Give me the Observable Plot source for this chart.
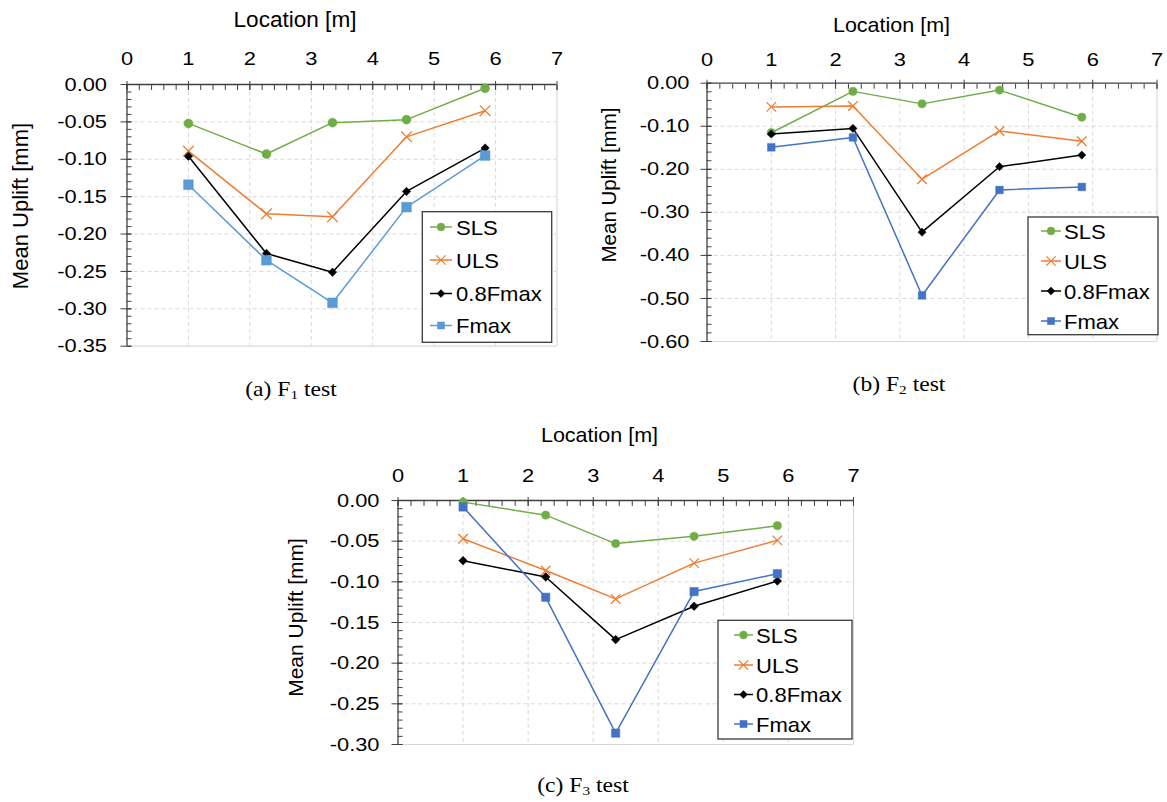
<!DOCTYPE html>
<html>
<head>
<meta charset="utf-8">
<script src="https://cdn.jsdelivr.net/npm/d3@7"></script>
<script src="https://cdn.jsdelivr.net/npm/@observablehq/plot@0.6"></script>
<style>
  html, body { margin: 0; padding: 0; background: #ffffff; }
  #root { position: relative; width: 1167px; height: 802px; overflow: hidden; background: #ffffff;
          font-family: "Liberation Sans", Arial, sans-serif; }
  .panel { position: absolute; }
  .panel svg { overflow: visible; }
  #overlay { position: absolute; left: 0; top: 0; pointer-events: none; }
</style>
</head>
<body>
<div id="root"></div>
<script>
// ---------------- DATA ----------------
const seriesNames = ["SLS", "ULS", "0.8Fmax", "Fmax"];
const locations = [1.0, 2.27, 3.345, 4.55, 5.83];            // Location [m]

// (a) F1 test — mean uplift [mm]
const a_SLS     = [-0.052, -0.093, -0.051, -0.047, -0.005];
const a_ULS     = [-0.089, -0.173, -0.177, -0.070, -0.035];
const a_08Fmax  = [-0.096, -0.226, -0.251, -0.143, -0.085];
const a_Fmax    = [-0.134, -0.235, -0.292, -0.164, -0.095];

// (b) F2 test
const b_SLS     = [-0.115, -0.019, -0.048, -0.016, -0.079];
const b_ULS     = [-0.055, -0.053, -0.223, -0.111, -0.135];
const b_08Fmax  = [-0.118, -0.105, -0.346, -0.194, -0.167];
const b_Fmax    = [-0.149, -0.126, -0.493, -0.248, -0.241];

// (c) F3 test
const c_SLS     = [-0.002, -0.018, -0.053, -0.044, -0.031];
const c_ULS     = [-0.047, -0.086, -0.121, -0.077, -0.049];
const c_08Fmax  = [-0.074, -0.094, -0.171, -0.130, -0.099];
const c_Fmax    = [-0.008, -0.119, -0.286, -0.112, -0.090];

// tick labels
const xTicks  = [0, 1, 2, 3, 4, 5, 6, 7];
const yTicksA = [0, -0.05, -0.10, -0.15, -0.20, -0.25, -0.30, -0.35];
const yTicksB = [0, -0.10, -0.20, -0.30, -0.40, -0.50, -0.60];
const yTicksC = [0, -0.05, -0.10, -0.15, -0.20, -0.25, -0.30];

const xTitle = "Location [m]";
const yTitle = "Mean Uplift [mm]";
const captions = [["(a) F", "1", " test"], ["(b) F", "2", " test"], ["(c) F", "3", " test"]];

// ---------------- STYLE / LAYOUT ----------------
const green = "#70AD47", orange = "#ED7D31", black = "#000000";
const gridColor = "#d9d9d9", axisColor = "#404040";
const FONT = "Liberation Sans, Arial, sans-serif";

const panels = [
  { key: "a", left: 0, top: 0, width: 580, height: 400, mL: 126.5, mR: 23.5, mT: 84, mB: 54.3,
    yTicks: yTicksA, yMinorStep: 0.01, data: [a_SLS, a_ULS, a_08Fmax, a_Fmax], fmax: "#5B9BD5",
    xPad: 20, yPad: 20, rCircle: 4.5, rTimes: 4.9, rDiamond: 3.8, rSquare: 5.5,
    title: { x: 295, y: 26.5, size: 21.5 }, ylab: { x: 28, y: 206, size: 22 },
    cap: { x: 291, y: 396 },
    legend: { x: 422.3, y: 211.7, w: 129.4, h: 130.6, rows: [227, 260, 293.5, 325.5], lx0: 430, lx1: 452, tx: 456 } },
  { key: "b", left: 590, top: 0, width: 577, height: 400, mL: 116.5, mR: 10.5, mT: 82.7, mB: 59,
    yTicks: yTicksB, yMinorStep: 0.02, data: [b_SLS, b_ULS, b_08Fmax, b_Fmax], fmax: "#4472C4",
    xPad: 17.7, yPad: 17.5, rCircle: 4.1, rTimes: 4.4, rDiamond: 3.7, rSquare: 4.3,
    title: { x: 891.5, y: 31.5, size: 20.5 }, ylab: { x: 616, y: 185, size: 20.5 },
    cap: { x: 899, y: 390.5 },
    legend: { x: 1028, y: 217, w: 130, h: 117.7, rows: [231, 261, 291, 321], lx0: 1041, lx1: 1061, tx: 1064 } },
  { key: "c", left: 280, top: 420, width: 600, height: 382, mL: 117.5, mR: 27, mT: 80, mB: 58,
    yTicks: yTicksC, yMinorStep: 0.01, data: [c_SLS, c_ULS, c_08Fmax, c_Fmax], fmax: "#4472C4",
    xPad: 18.3, yPad: 18.5, rCircle: 4.1, rTimes: 4.4, rDiamond: 3.9, rSquare: 4.7,
    title: { x: 599.5, y: 442.3, size: 20.5 }, ylab: { x: 303, y: 617.5, size: 21 },
    cap: { x: 583, y: 792 },
    legend: { x: 718, y: 620.3, w: 134, h: 118.7, rows: [635, 665, 694.5, 724], lx0: 734, lx1: 753, tx: 756 } }
];

const root = document.getElementById("root");

function rows(values) { return locations.map((x, i) => ({ x, y: values[i] })); }

// widen tick labels horizontally (the reference's text is stretched) without moving their anchor
function stretchTexts(svg, sx) {
  svg.querySelectorAll("text").forEach(t => {
    const xa = t.getAttribute("x");
    const x = xa !== null && isFinite(+xa) ? +xa : 0;
    if (xa !== null && isFinite(+xa)) t.removeAttribute("x");
    const tr = t.getAttribute("transform") || "";
    t.setAttribute("transform", `${tr} translate(${x},0) scale(${sx},1)`);
  });
}

for (const p of panels) {
  const yMin = p.yTicks[p.yTicks.length - 1];
  const xMinor = d3.range(0, 7.0001, 0.2);
  const yMinor = d3.range(0, yMin - 1e-9, -p.yMinorStep);
  const [sls, uls, f08, fmax] = p.data;
  const chart = Plot.plot({
    width: p.width, height: p.height,
    marginLeft: p.mL, marginRight: p.mR, marginTop: p.mT, marginBottom: p.mB,
    x: { domain: [0, 7] },
    y: { domain: [yMin, 0] },
    style: { fontFamily: FONT, fontSize: "19px", color: "#000", background: "transparent", overflow: "visible" },
    marks: [
      // grid
      Plot.ruleX(xTicks.filter(d => d > 0 && d < 7), { stroke: gridColor, strokeWidth: 1, strokeDasharray: "4,3" }),
      Plot.ruleY(p.yTicks.filter(d => d < 0 && d > yMin), { stroke: gridColor, strokeWidth: 1, strokeDasharray: "4,3" }),
      Plot.ruleX([7], { stroke: gridColor, strokeWidth: 1.2 }),
      Plot.ruleY([yMin], { stroke: gridColor, strokeWidth: 1.2 }),
      // axis lines
      Plot.ruleY([0], { stroke: axisColor, strokeWidth: 1.3 }),
      Plot.ruleX([0], { stroke: axisColor, strokeWidth: 1.3 }),
      // x ticks (top): minor inward, major crossing
      Plot.axisX({ anchor: "top", ticks: xMinor, tickSize: 5, dy: 5, text: null, label: null, stroke: axisColor }),
      Plot.axisX({ anchor: "top", ticks: xTicks, tickSize: 9, dy: 5, text: null, label: null, stroke: axisColor }),
      Plot.axisX({ anchor: "top", ticks: xTicks, tickSize: 0, tickPadding: p.xPad, label: null,
                   tickFormat: d => String(d), fontSize: 19, fill: "#000" }),
      // y ticks (left)
      Plot.axisY({ anchor: "left", ticks: yMinor, tickSize: 5, dx: 5, text: null, label: null, stroke: axisColor }),
      Plot.axisY({ anchor: "left", ticks: p.yTicks, tickSize: 11, dx: 5, text: null, label: null, stroke: axisColor }),
      Plot.axisY({ anchor: "left", ticks: p.yTicks, tickSize: 0, tickPadding: p.yPad, label: null,
                   tickFormat: d => (Math.abs(d) < 1e-9 ? "0.00" : d.toFixed(2)), fontSize: 19, fill: "#000" }),
      // series
      Plot.line(rows(sls), { x: "x", y: "y", stroke: green, strokeWidth: 1.5 }),
      Plot.dot(rows(sls), { x: "x", y: "y", symbol: "circle", r: p.rCircle, fill: green, stroke: green, strokeWidth: 0.5 }),
      Plot.line(rows(uls), { x: "x", y: "y", stroke: orange, strokeWidth: 1.5 }),
      Plot.dot(rows(uls), { x: "x", y: "y", symbol: "times", r: p.rTimes, stroke: orange, strokeWidth: 1.3 }),
      Plot.line(rows(f08), { x: "x", y: "y", stroke: black, strokeWidth: 1.5 }),
      Plot.dot(rows(f08), { x: "x", y: "y", symbol: "diamond2", r: p.rDiamond, fill: black, stroke: black, strokeWidth: 0.5 }),
      Plot.line(rows(fmax), { x: "x", y: "y", stroke: p.fmax, strokeWidth: 1.5 }),
      Plot.dot(rows(fmax), { x: "x", y: "y", symbol: "square", r: p.rSquare, fill: p.fmax, stroke: p.fmax, strokeWidth: 0.5 })
    ]
  });
  stretchTexts(chart, 1.15);
  const div = document.createElement("div");
  div.className = "panel";
  div.style.left = p.left + "px";
  div.style.top = p.top + "px";
  div.appendChild(chart);
  root.appendChild(div);
}

// ---------------- OVERLAY: titles, captions, legends ----------------
const ov = d3.select(root).append("svg")
  .attr("id", "overlay").attr("width", 1167).attr("height", 802);

const legendColors = (p) => [green, orange, black, p.fmax];
const legendSymbols = [d3.symbolCircle, d3.symbolTimes, d3.symbolDiamond2, d3.symbolSquare];
const legendR = [3.9, 4.3, 3.5, 4.0];

panels.forEach((p, k) => {
  // x title
  ov.append("text")
    .attr("transform", `translate(${p.title.x},${p.title.y}) scale(1.05,1)`)
    .attr("text-anchor", "middle")
    .attr("font-family", FONT).attr("font-size", p.title.size).attr("fill", "#000")
    .text(xTitle);
  // y title
  ov.append("text")
    .attr("transform", `translate(${p.ylab.x},${p.ylab.y}) rotate(-90)`)
    .attr("text-anchor", "middle")
    .attr("font-family", FONT).attr("font-size", p.ylab.size).attr("fill", "#000")
    .text(yTitle);
  // caption
  const c = ov.append("text")
    .attr("transform", `translate(${p.cap.x},${p.cap.y}) scale(1.18,1)`)
    .attr("text-anchor", "middle")
    .attr("font-family", "Liberation Serif, 'Times New Roman', serif").attr("font-size", 20).attr("fill", "#000");
  c.append("tspan").text(captions[k][0]);
  c.append("tspan").attr("font-size", 13).attr("dy", 3).text(captions[k][1]);
  c.append("tspan").attr("dy", -3).text(captions[k][2]);

  // legend
  const L = p.legend;
  ov.append("rect").attr("x", L.x).attr("y", L.y).attr("width", L.w).attr("height", L.h)
    .attr("fill", "#ffffff").attr("stroke", "#3a3a3a").attr("stroke-width", 1.3);
  const cols = legendColors(p);
  seriesNames.forEach((name, i) => {
    const cy = L.rows[i];
    ov.append("line").attr("x1", L.lx0).attr("x2", L.lx1).attr("y1", cy).attr("y2", cy)
      .attr("stroke", cols[i]).attr("stroke-width", 1.5);
    const r = legendR[i];
    const sym = d3.symbol(legendSymbols[i], Math.PI * r * r)();
    const isStroke = i === 1;
    ov.append("path").attr("d", sym)
      .attr("transform", `translate(${(L.lx0 + L.lx1) / 2},${cy})`)
      .attr("fill", isStroke ? "none" : cols[i])
      .attr("stroke", cols[i]).attr("stroke-width", isStroke ? 1.3 : 0.5);
    ov.append("text")
      .attr("transform", `translate(${L.tx},${cy}) scale(1.05,1)`)
      .attr("dy", "0.36em")
      .attr("font-family", FONT).attr("font-size", 21).attr("fill", "#000")
      .text(name);
  });
});
</script>
</body>
</html>
